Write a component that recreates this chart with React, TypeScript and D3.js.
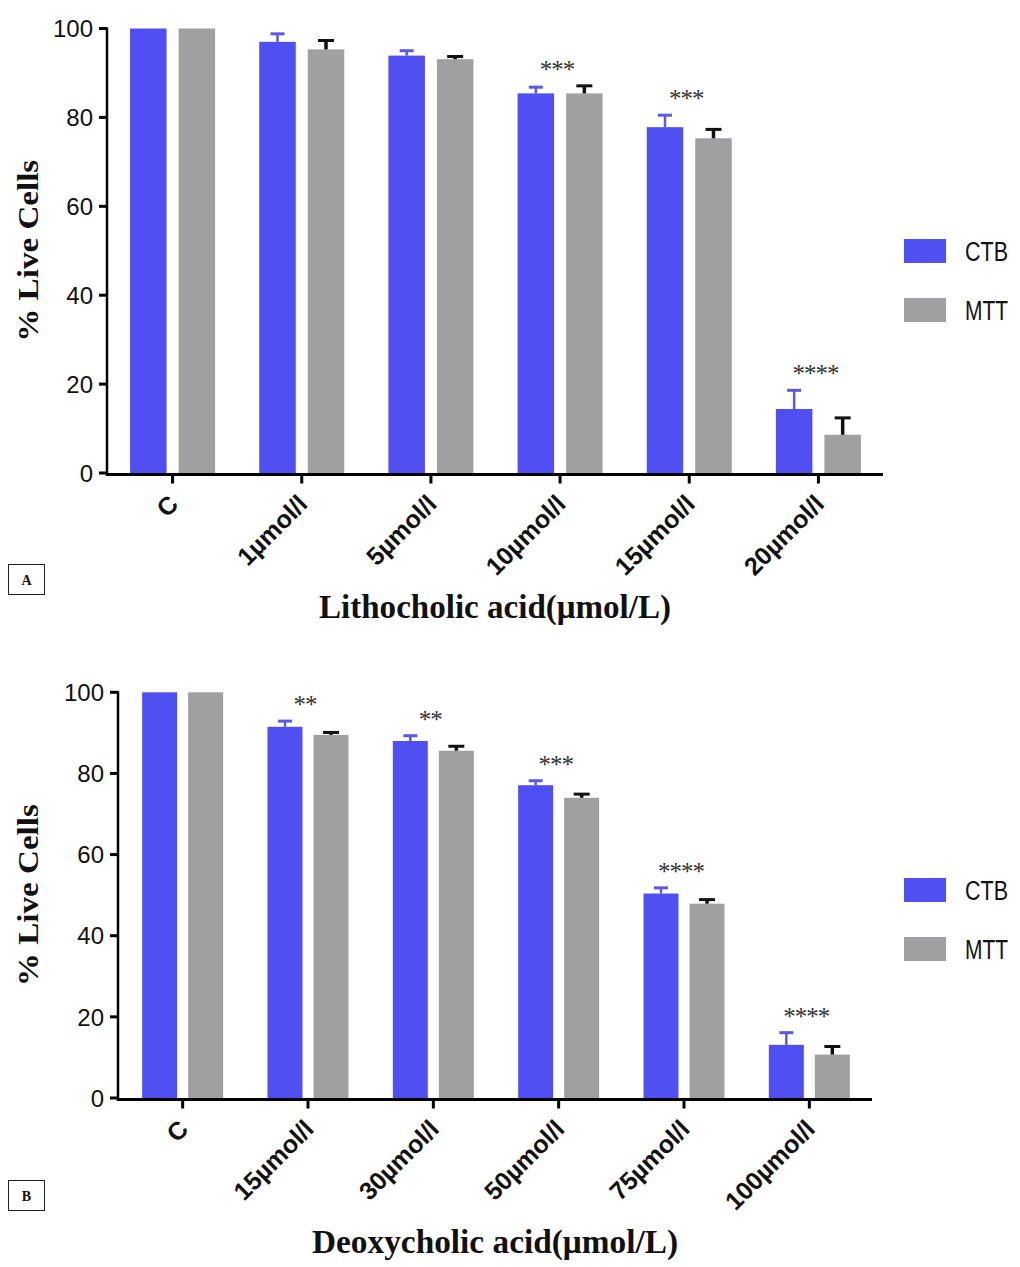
import React from 'react';
import * as d3 from 'd3';

const SERIES = ['CTB', 'MTT'];
const COLORS = ['#5050F2', '#A0A0A2'];
const ERR_COLORS = ['#5A5AE8', '#111111'];
const Y_TICKS = [0, 20, 40, 60, 80, 100];

const A_CATEGORIES = ['C', '1µmol/l', '5µmol/l', '10µmol/l', '15µmol/l', '20µmol/l'];
const A_CTB = [100, 97.0, 93.9, 85.4, 77.8, 14.4];
const A_CTB_ERR = [0, 1.8, 1.1, 1.4, 2.7, 4.2];
const A_MTT = [100, 95.3, 93.1, 85.4, 75.3, 8.6];
const A_MTT_ERR = [0, 2.0, 0.6, 1.7, 2.0, 3.8];
const A_SIG = ['', '', '', '***', '***', '****'];

const B_CATEGORIES = ['C', '15µmol/l', '30µmol/l', '50µmol/l', '75µmol/l', '100µmol/l'];
const B_CTB = [100, 91.5, 88.0, 77.1, 50.4, 13.1];
const B_CTB_ERR = [0, 1.4, 1.3, 1.1, 1.4, 3.0];
const B_MTT = [100, 89.5, 85.6, 74.0, 47.9, 10.7];
const B_MTT_ERR = [0, 0.6, 1.1, 0.9, 1.0, 2.0];
const B_SIG = ['', '**', '**', '***', '****', '****'];

type PanelProps = {
  categories: string[];
  values: number[][];
  errors: number[][];
  sig: string[];
  axisX: number;
  bandStart: number;
  bandEnd: number;
  yTop: number;
  yBottom: number;
  barW: number;
  gap: number;
  xTitle: string;
  xTitleLen: number;
  xTitleY: number;
  label: string;
  labelY: number;
  legendY: number;
};

function Panel(p: PanelProps) {
  const y = d3.scaleLinear().domain([0, 100]).range([p.yBottom, p.yTop]);
  const step = (p.bandEnd - p.bandStart) / p.categories.length;
  const groupW = 2 * p.barW + p.gap;
  const x0 = d3
    .scaleBand<string>()
    .domain(p.categories)
    .range([p.bandStart, p.bandEnd])
    .paddingInner(1 - groupW / step)
    .paddingOuter((1 - groupW / step) / 2);
  const x1 = d3
    .scaleBand<string>()
    .domain(SERIES)
    .range([0, x0.bandwidth()])
    .paddingInner(p.gap / (p.barW + p.gap));
  const axisY = p.yBottom + 1.5;
  const sans = 'Liberation Sans, Arial, sans-serif';
  const serif = 'Liberation Serif, Times New Roman, serif';
  const midY = (p.yTop + p.yBottom) / 2;
  const midX = (p.axisX + p.bandEnd) / 2;

  return (
    <g>
      {/* bars */}
      {p.categories.map((c, i) => (
        <g key={c}>
          {SERIES.map((s, si) => {
            const v = p.values[si][i];
            const e = p.errors[si][i];
            const bx = (x0(c) as number) + (x1(s) as number);
            const cx = bx + x1.bandwidth() / 2;
            const capW = si === 0 ? 14 : 16;
            const sw = si === 0 ? 2.5 : 3.5;
            return (
              <g key={s}>
                <rect x={bx} y={y(v)} width={x1.bandwidth()} height={p.yBottom - y(v)} fill={COLORS[si]} />
                {e > 0 && (
                  <g stroke={ERR_COLORS[si]}>
                    <line x1={cx} x2={cx} y1={y(v)} y2={y(v + e)} strokeWidth={sw} />
                    <line x1={cx - capW / 2} x2={cx + capW / 2} y1={y(v + e)} y2={y(v + e)} strokeWidth={3} />
                  </g>
                )}
              </g>
            );
          })}
          {p.sig[i] && (
            <text
              x={(x0(c) as number) + x0.bandwidth() / 2 - 3}
              y={Math.min(y(p.values[0][i] + p.errors[0][i]), y(p.values[1][i] + p.errors[1][i])) - 8}
              textAnchor="middle"
              fontFamily={serif}
              fontSize={25}
              letterSpacing={-1}
              fill="#333"
            >
              {p.sig[i]}
            </text>
          )}
        </g>
      ))}
      {/* y axis */}
      <line x1={p.axisX} x2={p.axisX} y1={p.yTop - 1} y2={axisY + 1.5} stroke="#000" strokeWidth={2.5} />
      {Y_TICKS.map((t) => (
        <g key={t}>
          <line x1={p.axisX - 8} x2={p.axisX} y1={y(t)} y2={y(t)} stroke="#000" strokeWidth={3} />
          <text
            x={p.axisX - 14}
            y={y(t)}
            dy="0.36em"
            textAnchor="end"
            fontFamily={sans}
            fontSize={24}
            fill="#111"
          >
            {t}
          </text>
        </g>
      ))}
      {/* x axis */}
      <line x1={p.axisX} x2={p.bandEnd} y1={axisY} y2={axisY} stroke="#000" strokeWidth={3} />
      {p.categories.map((c) => {
        const cx = (x0(c) as number) + x0.bandwidth() / 2;
        return (
          <g key={c}>
            <line x1={cx} x2={cx} y1={axisY} y2={axisY + 9} stroke="#000" strokeWidth={3} />
            <text
              transform={`translate(${cx + 1},${axisY + 25}) rotate(-45)`}
              textAnchor="end"
              dy="0.35em"
              fontFamily={sans}
              fontWeight="bold"
              fontSize={25}
              fill="#111"
            >
              {c}
            </text>
          </g>
        );
      })}
      {/* axis titles */}
      <text
        transform={`translate(38,${midY}) rotate(-90)`}
        textAnchor="middle"
        fontFamily={serif}
        fontWeight="bold"
        fontSize={30}
        textLength={182}
        lengthAdjust="spacingAndGlyphs"
        fill="#111"
      >
        % Live Cells
      </text>
      <text
        x={midX}
        y={p.xTitleY}
        textAnchor="middle"
        fontFamily={serif}
        fontWeight="bold"
        fontSize={33}
        textLength={p.xTitleLen}
        lengthAdjust="spacingAndGlyphs"
        fill="#111"
      >
        {p.xTitle}
      </text>
      {/* panel label */}
      <rect x={8.5} y={p.labelY + 0.5} width={36} height={30} fill="none" stroke="#222" strokeWidth={1} />
      <text x={26.5} y={p.labelY + 20.5} textAnchor="middle" fontFamily={serif} fontWeight="bold" fontSize={14} fill="#111">
        {p.label}
      </text>
      {/* legend */}
      {SERIES.map((s, si) => (
        <g key={s}>
          <rect x={904} y={p.legendY + si * 59 - 12} width={42} height={24} fill={COLORS[si]} />
          <text
            x={965}
            y={p.legendY + si * 59}
            dy="0.36em"
            fontFamily={sans}
            fontSize={27}
            textLength={43}
            lengthAdjust="spacingAndGlyphs"
            fill="#111"
          >
            {s}
          </text>
        </g>
      ))}
    </g>
  );
}

export default function App() {
  return (
    <svg
      width={1020}
      height={1267}
      viewBox="0 0 1020 1267"
      style={{ position: 'absolute', left: 0, top: 0, background: '#fff' }}
    >
      <rect width={1020} height={1267} fill="#fff" />
      <Panel
        categories={A_CATEGORIES}
        values={[A_CTB, A_MTT]}
        errors={[A_CTB_ERR, A_MTT_ERR]}
        sig={A_SIG}
        axisX={107}
        bandStart={108}
        bandEnd={883}
        yTop={28.5}
        yBottom={473}
        barW={36.5}
        gap={12}
        xTitle="Lithocholic acid(μmol/L)"
        xTitleLen={352}
        xTitleY={618}
        label="A"
        labelY={564}
        legendY={251}
      />
      <Panel
        categories={B_CATEGORIES}
        values={[B_CTB, B_MTT]}
        errors={[B_CTB_ERR, B_MTT_ERR]}
        sig={B_SIG}
        axisX={118}
        bandStart={120}
        bandEnd={872}
        yTop={692.3}
        yBottom={1098}
        barW={35}
        gap={11}
        xTitle="Deoxycholic acid(μmol/L)"
        xTitleLen={366}
        xTitleY={1253}
        label="B"
        labelY={1180}
        legendY={890}
      />
    </svg>
  );
}
